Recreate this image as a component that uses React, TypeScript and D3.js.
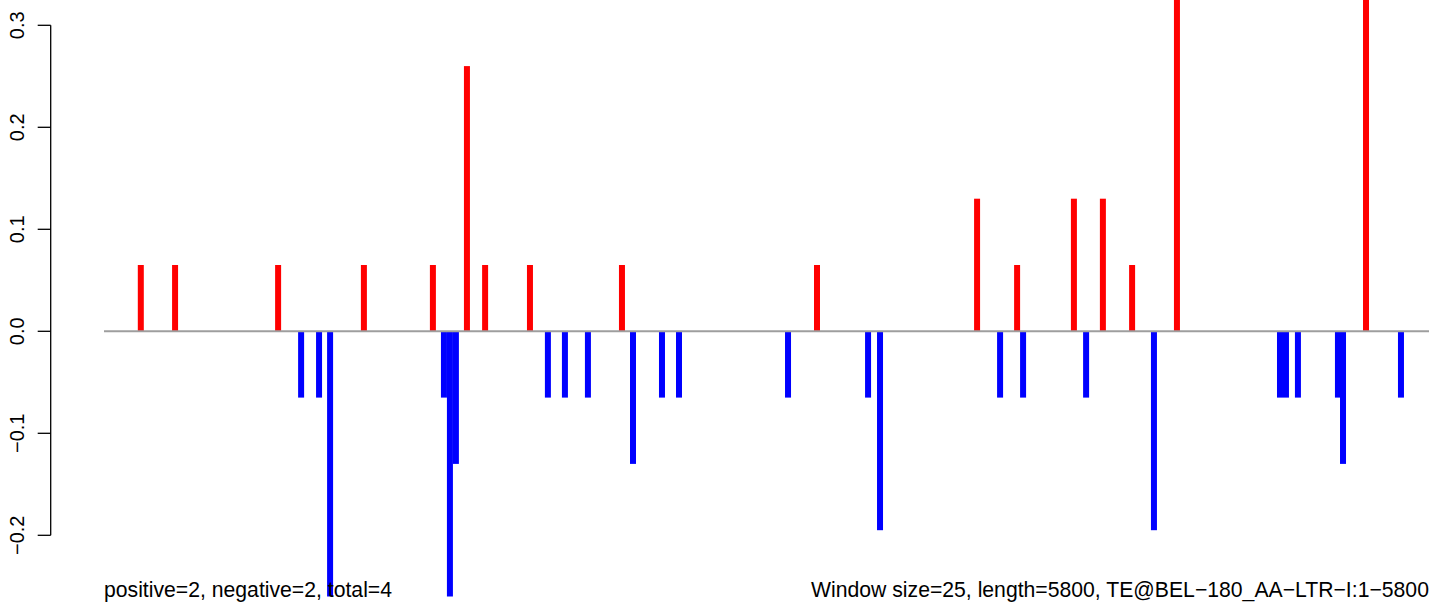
import React from "react";
import * as d3 from "d3";

// Window positions (bp) and scores
const positions: number[] = [
  160, 309, 757, 857, 935, 983, 1130, 1430, 1478, 1504, 1530, 1578, 1657, 1852,
  1930, 2004, 2104, 2252, 2300, 2426, 2500, 2974, 3100, 3322, 3374, 3796, 3896,
  3970, 3996, 4217, 4270, 4343, 4470, 4565, 4665, 5113, 5139, 5191, 5365, 5387,
  5487, 5639,
];
const scores: number[] = [
  0.065, 0.065, 0.065, -0.065, -0.065, -0.26, 0.065, 0.065, -0.065, -0.26, -0.13,
  0.26, 0.065, 0.065, -0.065, -0.065, -0.065, 0.065, -0.13, -0.065, -0.065,
  -0.065, 0.065, -0.065, -0.195, 0.13, -0.065, 0.065, -0.065, 0.13, -0.065, 0.13,
  0.065, -0.195, 0.39, -0.065, -0.065, -0.065, -0.065, -0.13, 0.39, -0.065,
];
const yTicks: number[] = [-0.2, -0.1, 0.0, 0.1, 0.2, 0.3];
const seqLength = 5800;
const leftLabel = "positive=2, negative=2, total=4";
const rightLabel = "Window size=25, length=5800, TE@BEL\u2212180_AA\u2212LTR\u2212I:1\u22125800";

const W = 1429;
const H = 602;

export default function App() {
  const x = d3.scaleLinear().domain([0, seqLength]).range([104, 104 + seqLength * 0.23]);
  const y = d3.scaleLinear().domain([0, 0.3]).range([331.3, 25.3]);
  const axisX = 50.7;
  const font = "'Liberation Sans', Arial, Helvetica, sans-serif";
  const fmt = (v: number) => v.toFixed(1).replace("-", "\u2212");

  return (
    <svg
      width={W}
      height={H}
      style={{ position: "absolute", left: 0, top: 0, overflow: "hidden", background: "#fff" }}
      fontFamily={font}
    >
      <rect x={0} y={0} width={W} height={H} fill="#fff" />
      {positions.map((p, i) => {
        const v = scores[i];
        const y0 = y(0);
        const y1 = y(v);
        return (
          <rect
            key={i}
            x={x(p) - 3}
            y={Math.min(y0, y1)}
            width={6}
            height={Math.abs(y1 - y0)}
            fill={v >= 0 ? "#ff0000" : "#0000ff"}
          />
        );
      })}
      <line x1={x(0)} x2={x(seqLength) + 60} y1={y(0)} y2={y(0)} stroke="#9e9e9e" strokeWidth={2} />
      {/* y axis */}
      <line
        x1={axisX}
        x2={axisX}
        y1={y(yTicks[0])}
        y2={y(yTicks[yTicks.length - 1])}
        stroke="#000"
        strokeWidth={1.3}
      />
      {yTicks.map((t) => (
        <g key={t}>
          <line x1={axisX - 13} x2={axisX} y1={y(t)} y2={y(t)} stroke="#000" strokeWidth={1.3} />
          <text
            transform={`translate(23.5,${y(t)}) rotate(-90)`}
            textAnchor="middle"
            fontSize={20}
            fill="#000"
          >
            {fmt(t)}
          </text>
        </g>
      ))}
      <text x={x(0)} y={597} fontSize={21.2} fill="#000">
        {leftLabel}
      </text>
      <text x={811} y={597} fontSize={21.2} fill="#000">
        {rightLabel}
      </text>
    </svg>
  );
}
